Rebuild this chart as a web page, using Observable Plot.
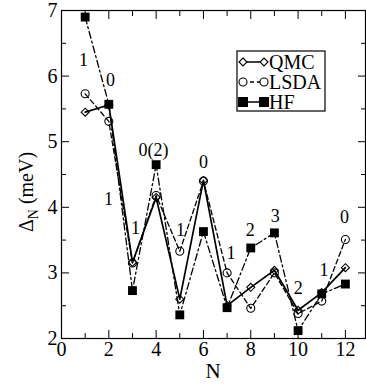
<!DOCTYPE html>
<html><head><meta charset="utf-8">
<script src="https://cdn.jsdelivr.net/npm/d3@7"></script>
<script src="https://cdn.jsdelivr.net/npm/@observablehq/plot@0.6"></script>
<style>
html,body{margin:0;padding:0;background:#fff}
#chart svg{display:block}
</style>
</head><body><div id="chart"></div>
<script>
// ---- data ----
const N = [1, 2, 3, 4, 5, 6, 7, 8, 9, 10, 11, 12];
const qmc  = [5.45, 5.56, 3.16, 4.15, 2.60, 4.41, 2.50, 2.78, 3.04, 2.43, 2.70, 3.08];
const lsda = [5.73, 5.31, 3.15, 4.18, 3.33, 4.40, 3.00, 2.46, 3.00, 2.38, 2.57, 3.51];
const hf   = [6.90, 5.57, 2.73, 4.65, 2.36, 3.63, 2.47, 3.38, 3.61, 2.12, 2.68, 2.83];
const seriesNames = ["QMC", "LSDA", "HF"];
const xTicks = [0, 2, 4, 6, 8, 10, 12];
const xMinor = [1, 3, 5, 7, 9, 11];
const yTicks = [2, 3, 4, 5, 6, 7];
const yMinor = [2.5, 3.5, 4.5, 5.5, 6.5];
const noteN    = [0.93, 2.07, 1.99, 3.13, 3.89, 5.03, 6.0, 7.17, 7.98, 9.04, 10.01, 11.1, 11.96];
const noteV    = [6.24, 5.93, 4.13, 3.68, 4.87, 3.65, 4.68, 3.30, 3.65, 3.86, 2.76, 3.04, 3.85];
const noteText = ["1", "0", "1", "1", "0(2)", "1", "0", "1", "2", "3", "2", "1", "0"];
const xLabel = "N";
const yLabelMain = "Δ", yLabelSub = "N", yLabelUnit = " (meV)";

const rows = vals => N.map((n, i) => ({N: n, v: vals[i]}));
const notes = noteText.map((t, i) => ({N: noteN[i], v: noteV[i], t}));
const FONT = "Liberation Serif";

const plot = Plot.plot({
  width: 366, height: 386,
  marginLeft: 61, marginRight: 1, marginTop: 10, marginBottom: 48,
  style: {fontSize: "20px", background: "#fff", color: "#000"},
  x: {domain: [0, 12.85]},
  y: {domain: [2, 7]},
  marks: [
    Plot.axisX(xTicks, {anchor: "bottom", tickSize: -8, tickPadding: 11, tickFormat: "d", label: null, stroke: "#000", fontSize: 20, fontFamily: FONT}),
    Plot.axisX(xMinor, {anchor: "bottom", tickSize: -5, tickFormat: () => "", label: null, stroke: "#000"}),
    Plot.axisX(xTicks, {anchor: "top", tickSize: -8, tickFormat: () => "", label: null, stroke: "#000"}),
    Plot.axisX(xMinor, {anchor: "top", tickSize: -5, tickFormat: () => "", label: null, stroke: "#000"}),
    Plot.axisY(yTicks, {anchor: "left", tickSize: -8, tickPadding: 12, tickFormat: "d", label: null, stroke: "#000", fontSize: 20, fontFamily: FONT}),
    Plot.axisY(yMinor, {anchor: "left", tickSize: -5, tickFormat: () => "", label: null, stroke: "#000"}),
    Plot.axisY(yTicks, {anchor: "right", tickSize: -8, tickFormat: () => "", label: null, stroke: "#000"}),
    Plot.axisY(yMinor, {anchor: "right", tickSize: -5, tickFormat: () => "", label: null, stroke: "#000"}),
    Plot.frame({stroke: "#000", strokeWidth: 1.2}),
    Plot.line(rows(lsda), {x: "N", y: "v", stroke: "#000", strokeWidth: 1.3, strokeDasharray: "5,3"}),
    Plot.line(rows(hf), {x: "N", y: "v", stroke: "#000", strokeWidth: 1.3, strokeDasharray: "7,3,2,3"}),
    Plot.line(rows(qmc), {x: "N", y: "v", stroke: "#000", strokeWidth: 1.7}),
    Plot.dot(rows(lsda), {x: "N", y: "v", r: 4, stroke: "#000", fill: "none", strokeWidth: 1.1, symbol: "circle"}),
    Plot.dot(rows(qmc), {x: "N", y: "v", r: 3.6, stroke: "#000", fill: "none", strokeWidth: 1.1, symbol: "diamond2"}),
    Plot.dot(rows(hf), {x: "N", y: "v", r: 5, fill: "#000", stroke: "none", symbol: "square"}),
    Plot.text(notes, {x: "N", y: "v", text: "t", fontSize: 18, fill: "#000", fontFamily: FONT})
  ]
});
document.getElementById("chart").appendChild(plot);

const svg = d3.select(plot);
svg.attr("font-family", FONT);
svg.append("text").attr("x", 213).attr("y", 378).attr("text-anchor", "middle")
  .attr("font-size", 21).attr("fill", "#000").text(xLabel);
const yl = svg.append("text").attr("transform", "translate(33,192) rotate(-90)")
  .attr("text-anchor", "middle").attr("font-size", 20).attr("fill", "#000");
yl.append("tspan").text(yLabelMain);
yl.append("tspan").attr("font-size", 14).attr("dy", 5).text(yLabelSub);
yl.append("tspan").attr("dy", -5).text(yLabelUnit);

const lg = svg.append("g");
lg.append("rect").attr("x", 237).attr("y", 51).attr("width", 88).attr("height", 60)
  .attr("fill", "#fff").attr("stroke", "#000").attr("stroke-width", 1.2);
const legendStyles = [
  {sym: d3.symbolDiamond2, fill: "none", dash: null, r: 3.6},
  {sym: d3.symbolCircle, fill: "none", dash: "4,3", r: 4},
  {sym: d3.symbolSquare, fill: "#000", dash: null, r: 5}
];
seriesNames.forEach((name, i) => {
  const cy = 62 + i * 20, st = legendStyles[i];
  lg.append("line").attr("x1", 243).attr("x2", 264).attr("y1", cy).attr("y2", cy)
    .attr("stroke", "#000").attr("stroke-width", 1.5).attr("stroke-dasharray", st.dash);
  [243, 264].forEach(cx => {
    lg.append("path").attr("transform", `translate(${cx},${cy})`)
      .attr("d", d3.symbol(st.sym, Math.PI * st.r * st.r)())
      .attr("fill", st.fill === "none" ? "#fff" : st.fill).attr("stroke", "#000").attr("stroke-width", 1.1);
  });
  lg.append("text").attr("x", 269).attr("y", cy + 7).attr("text-anchor", "start")
    .attr("font-size", 20).attr("fill", "#000").text(name);
});
// make every text use the serif face explicitly
svg.selectAll("text, tspan").attr("font-family", FONT).style("font-family", FONT);
</script>
</body></html>
